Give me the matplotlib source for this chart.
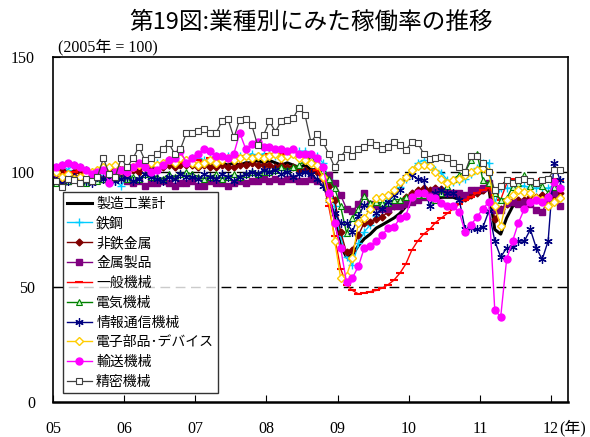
import matplotlib
matplotlib.use('Agg')
import matplotlib.pyplot as plt
import numpy as np

plt.rcParams['font.family'] = ['Noto Sans CJK JP', 'DejaVu Sans']

# 月次データ 2005年1月〜2012年2月 (2005年 = 100)
years = ['05', '06', '07', '08', '09', '10', '11', '12']

total = [99, 100, 99, 100, 100, 99, 100, 100, 101, 101, 101, 102,
         101, 102, 101, 102, 102, 103, 102, 103, 103, 103, 104, 104,
         103, 103, 104, 103, 104, 103, 104, 103, 104, 104, 105, 104,
         105, 104, 103, 104, 103, 102, 103, 101, 101, 97, 89, 80,
         68, 63, 64, 68, 71, 73, 75.6, 77, 78.5, 80, 82, 85,
         87, 89, 90, 90, 88, 89, 89, 89, 88, 88, 89, 91,
         91, 93, 75, 73, 80, 85, 87, 87, 88, 89, 88, 90,
         91, 92]
steel = [102, 103, 101, 103, 102, 101, 100, 99, 98, 97, 96, 94,
         98, 101, 102, 103, 102, 104, 104, 103, 105, 104, 105, 106,
         106, 105, 106, 107, 106, 107, 106, 107, 107, 108, 107, 108,
         108, 107, 107, 108, 108, 109, 109, 107, 107, 104, 97, 85,
         72, 63, 59.6, 69, 74, 77, 81, 85, 88.6, 91, 93.5, 97,
         101, 104, 105, 103, 101, 99.6, 96.5, 95.7, 96, 97, 99, 101.7,
         104, 104, 86.5, 93, 93, 93, 94, 94, 93, 93, 93, 93,
         94, 94]
nonferrous = [100, 101, 99, 100, 100, 101, 99, 100, 101, 99, 100, 100,
              101, 101, 100, 102, 101, 102, 102, 103, 102, 103, 103, 103,
              102, 103, 102, 102, 103, 102, 102, 103, 103, 104, 103, 103,
              103, 102, 103, 102, 102, 101, 101, 100, 100, 98, 94, 88,
              74, 65, 66, 72.6, 78, 78.3, 79.5, 80.5, 82.6, 85, 87, 89,
              91, 92, 93, 92, 93, 92.6, 92, 91, 90, 88.6, 90, 91,
              92, 93, 79.5, 84, 86, 87, 88, 88, 89, 89, 90, 90,
              89, 91]
metal = [97, 96, 96, 97, 96, 97, 96, 97, 97, 96, 98, 98,
         96, 95, 96, 94, 95, 95, 96, 95, 94, 95, 95, 96,
         94, 94, 96, 95, 95, 94, 95, 96, 95, 96, 96, 97,
         96, 97, 96, 97, 97, 96, 96, 97, 96, 98, 98.7, 95,
         90, 84, 83, 86, 91, 86, 85, 84, 84, 85, 85, 86,
         87, 88, 89, 90, 92, 91, 91, 91, 91, 90, 92, 92,
         93, 95, 83.5, 83.5, 86.5, 87, 86, 87, 86, 83.5, 82.6, 88,
         91, 85]
machinery = [100, 99, 100, 100, 101, 100, 99, 100, 101, 100, 100, 101,
             101, 101, 102, 102, 103, 103, 103, 104, 104, 104, 105, 105,
             105, 104, 106, 106, 105, 106, 106, 107, 106, 107, 107, 107,
             108, 108, 108, 108, 107, 107, 106, 105, 101, 96, 85, 72,
             58, 51, 48.5, 47, 47.5, 48, 48.5, 49.5, 51, 53, 56, 60,
             66, 70, 73, 75, 78, 80, 82, 84, 86, 88, 89, 91,
             92, 93, 90, 88, 95, 97, 96, 96, 96, 96, 97, 97,
             97, 96]
electric = [95, 94, 96, 97, 96, 95, 97, 96, 97, 98, 97, 98,
            97, 98, 97, 99, 98, 98, 97, 99, 98, 99, 100, 99,
            98, 97, 98, 99, 97, 98, 99, 98, 99, 100, 99, 100,
            100, 101, 102, 101, 102, 103, 105, 106, 104, 101, 97, 93,
            85, 73.5, 80, 84, 89.6, 86.5, 87, 86.5, 86.5, 88, 88, 89,
            89, 90, 90, 89, 88, 91, 94, 97, 98.7, 100, 105, 108,
            96.5, 95, 91, 88, 88.6, 93.5, 95, 98.7, 94, 95, 94, 91,
            93.5, 94]
ict = [97, 95, 96, 98, 97, 96, 95, 98, 97, 98, 96, 97,
       98, 96, 97, 99, 98, 97, 96, 98, 97, 99, 98, 98,
       97, 99, 98, 97, 99, 98, 96, 98, 99, 100, 99, 101,
       100, 101, 99, 100, 98, 99, 100, 99, 97, 94, 88, 82,
       78, 78, 74, 81, 85.6, 84, 82, 84, 87, 90, 92, 98,
       98.7, 97, 96.5, 85, 91, 92, 91, 91, 88, 75, 75.6, 75,
       76, 83, 70, 63, 67, 67.5, 70, 70, 75, 67, 62, 70,
       104, 96.5]
devices = [100, 98, 99, 97, 98, 99, 100, 101, 102, 102, 103, 101,
           100, 102, 103, 103, 104, 103, 104, 105, 104, 106, 105, 104,
           103, 104, 105, 104, 105, 106, 105, 106, 107, 106, 107, 106,
           107, 108, 106, 107, 108, 106, 105, 104, 103, 98, 88, 70,
           54, 55, 62.6, 78, 80, 84, 88.6, 89, 90, 92, 95.6, 98,
           101, 102.6, 103, 102.6, 100, 97, 95, 96.5, 97, 98.7, 100, 101,
           101.6, 100, 85, 76.5, 88, 90, 92, 91.5, 91, 88.6, 88, 85,
           87, 88.6]
transport = [102, 103, 104, 103, 102, 101, 99, 100, 101, 95, 100, 101,
             100, 102, 104, 102, 100, 101, 103, 105, 106, 109, 104, 106,
             108, 110, 109, 107, 107, 106, 108, 117, 110, 112, 113, 111,
             111, 110, 110, 109, 110, 108, 108, 108, 106, 102, 91, 78,
             67, 52, 54, 59, 67, 68, 70, 72.6, 75.6, 76, 80, 81,
             89, 91, 91, 89, 88.6, 86.5, 85, 85, 82.6, 74, 77, 80.5,
             84, 87, 40, 37, 62, 70, 78, 84, 87, 88, 87, 89,
             95.6, 93]
precision = [96, 93.5, 97, 96.5, 95, 97, 96, 98, 106, 99, 98, 106,
             102, 106, 111, 105, 106, 108, 110, 112.6, 108, 110, 117, 117,
             118, 118.6, 117, 117, 122, 123, 115, 122.6, 123, 120.6, 111.7, 116,
             122, 117.6, 122, 122.6, 123.5, 128, 124.8, 113, 116.5, 113, 108, 102,
             106.5, 110, 107, 110, 111, 113, 111.7, 110, 111, 113, 111.7, 109.6,
             113, 112.6, 108, 105.6, 106, 106.5, 106, 104, 102, 100, 107, 107,
             104, 100, 92, 94, 96.5, 95, 96.5, 97, 96, 95, 96.5, 97,
             101, 101]

labels = ['製造工業計', '鉄鋼', '非鉄金属', '金属製品', '一般機械', '電気機械',
          '情報通信機械', '電子部品･デバイス', '輸送機械', '精密機械']
series = [total, steel, nonferrous, metal, machinery, electric,
          ict, devices, transport, precision]

styles = [
    dict(color='black', lw=2.2),
    dict(color='#00CCFF', lw=1, marker='+', ms=6, mew=1),
    dict(color='#800000', lw=1, marker='D', ms=3.5),
    dict(color='#800080', lw=1, marker='s', ms=5),
    dict(color='#FF0000', lw=1, marker='_', ms=6, mew=1.5),
    dict(color='#008000', lw=1, marker='^', ms=5, mfc='#ccffcc', mew=0.8),
    dict(color='#000080', lw=1, marker=(6, 2, 0), ms=6, mew=0.9),
    dict(color='#FFCC00', lw=1, marker='D', ms=4, mfc='white', mew=1),
    dict(color='#FF00FF', lw=1, marker='o', ms=5),
    dict(color='#404040', lw=0.9, marker='s', ms=5, mfc='white', mew=0.8),
]

fig = plt.figure(figsize=(5.9, 4.37), dpi=100)
ax = fig.add_axes([53 / 590, 35 / 437, 515 / 590, 345 / 437])

x = np.arange(len(total))
ax.axhline(100, color='black', lw=1, ls=(0, (7, 4)), zorder=1)
ax.axhline(50, color='black', lw=1, ls=(0, (7, 4)), zorder=1)

for vals, lab, st in zip(series, labels, styles):
    ax.plot(x, vals, label=lab, zorder=2, **st)

ax.set_xlim(-0.5, 86.35)
ax.set_ylim(0, 150)
ax.set_yticks([0, 50, 100, 150])
ax.set_xticks(np.arange(len(years)) * 12 - 0.5)
ax.set_xticklabels(years)
for lab in ax.get_xticklabels() + ax.get_yticklabels():
    lab.set_family('Liberation Serif')
    lab.set_fontsize(11.5)
ax.tick_params(axis='y', direction='in', length=5, pad=13)
ax.tick_params(axis='x', direction='in', length=5, pad=14)
for sp in ax.spines.values():
    sp.set_linewidth(1.2)
ax.spines['bottom'].set_linewidth(1.8)

fig.text(559.5 / 590, 1 - 428 / 437, '(年)', ha='left', va='center',
         fontsize=11.5, family=['Liberation Serif', 'Noto Sans CJK JP'])
fig.text(58 / 590, 1 - 47 / 437, '(2005年 = 100)', ha='left', va='center',
         fontsize=11.5, family=['Liberation Serif', 'Noto Sans CJK JP'])
fig.text(311 / 590, 1 - 22 / 437, '第19図:業種別にみた稼働率の推移',
         ha='center', va='center', fontsize=17)

leg = ax.legend(loc='lower left', bbox_to_anchor=(0.019, 0.026),
                fontsize=10, frameon=True, fancybox=False, edgecolor='black',
                handlelength=1.8, labelspacing=0.42, borderpad=0.3,
                handletextpad=0.3, borderaxespad=0)
leg.get_frame().set_linewidth(1.0)
leg.set_zorder(5)

fig.savefig('out.png', dpi=100)
